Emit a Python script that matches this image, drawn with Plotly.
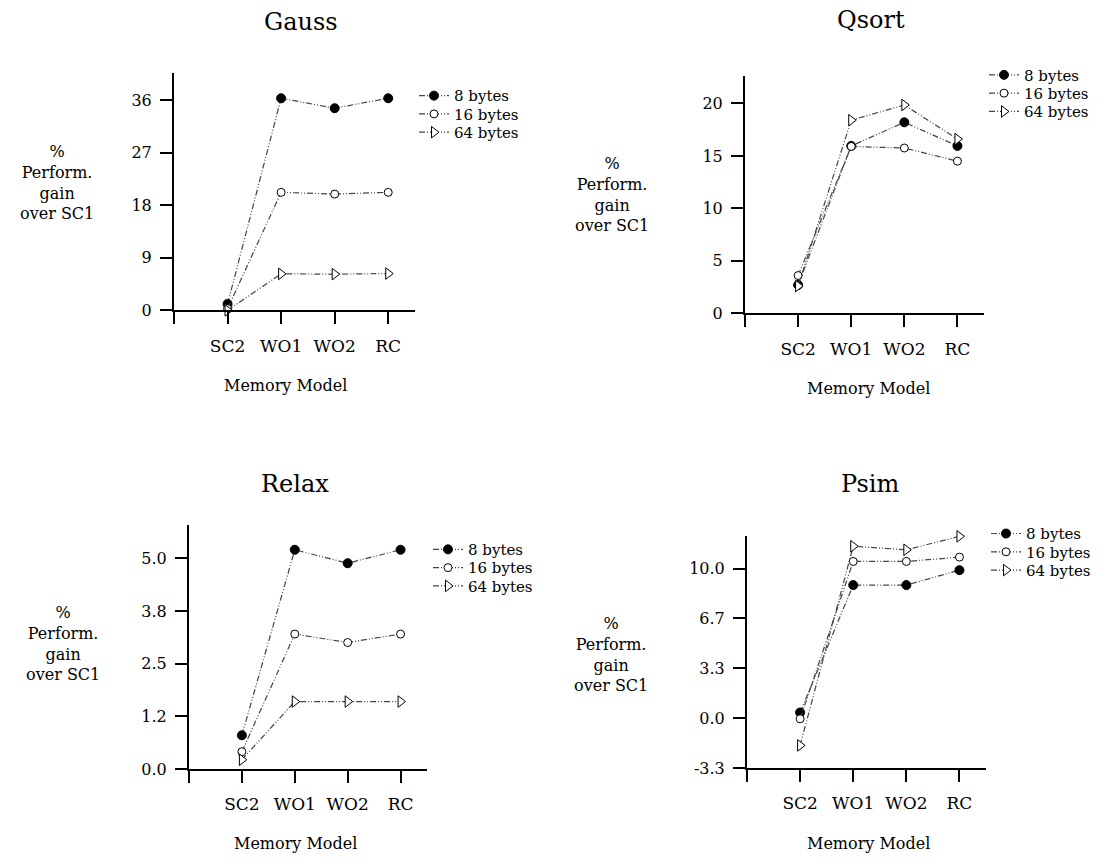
import plotly.graph_objects as go

W, H = 1114, 867

categories = ["SC2", "WO1", "WO2", "RC"]
series_names = ["8 bytes", "16 bytes", "64 bytes"]

gauss_8 = [1.1, 36.3, 34.6, 36.3]
gauss_16 = [0.3, 20.2, 19.9, 20.2]
gauss_64 = [0.0, 6.25, 6.2, 6.3]

qsort_8 = [2.7, 15.95, 18.2, 15.95]
qsort_16 = [3.6, 15.9, 15.75, 14.5]
qsort_64 = [2.6, 18.4, 19.85, 16.6]

relax_8 = [0.8, 5.2, 4.88, 5.2]
relax_16 = [0.41, 3.2, 3.0, 3.2]
relax_64 = [0.22, 1.6, 1.6, 1.6]

psim_8 = [0.38, 8.9, 8.9, 9.9]
psim_16 = [-0.04, 10.48, 10.48, 10.77]
psim_64 = [-1.82, 11.5, 11.26, 12.16]

gauss_ticks = [0, 9, 18, 27, 36]
gauss_ticktext = ["0", "9", "18", "27", "36"]
qsort_ticks = [0, 5, 10, 15, 20]
qsort_ticktext = ["0", "5", "10", "15", "20"]
relax_ticks = [0, 1.25, 2.5, 3.75, 5.0]
relax_ticktext = ["0.0", "1.2", "2.5", "3.8", "5.0"]
psim_ticks = [-10 / 3, 0, 10 / 3, 20 / 3, 10]
psim_ticktext = ["-3.3", "0.0", "3.3", "6.7", "10.0"]

ytitle = "%<br>Perform.<br>gain<br>over SC1"
xtitle = "Memory Model"

FONT = "DejaVu Serif"

panels = [
    dict(title="Gauss", data=[gauss_8, gauss_16, gauss_64], ticks=gauss_ticks, ticktext=gauss_ticktext,
         box=(174, 415, 74, 314), yrange=[0, 40.6], tpos=(301, 22), mpos=(285, 390),
         ypos=(57, 185), leg=(414, [97, 115.5, 134])),
    dict(title="Qsort", data=[qsort_8, qsort_16, qsort_64], ticks=qsort_ticks, ticktext=qsort_ticktext,
         box=(745, 984, 77, 317), yrange=[0, 22.6], tpos=(871, 20), mpos=(868, 393),
         ypos=(612, 197), leg=(984, [76, 94.5, 113])),
    dict(title="Relax", data=[relax_8, relax_16, relax_64], ticks=relax_ticks, ticktext=relax_ticktext,
         box=(189, 427, 531, 778), yrange=[0, 5.79], tpos=(295, 490), mpos=(295, 853),
         ypos=(63, 651), leg=(428, [556, 574.5, 593])),
    dict(title="Psim", data=[psim_8, psim_16, psim_64], ticks=psim_ticks, ticktext=psim_ticktext,
         box=(747, 986, 542, 777), yrange=[-10 / 3, 12.2], tpos=(870, 490), mpos=(868, 853),
         ypos=(611, 662), leg=(986, [540, 558.5, 577])),
]

markers = [
    dict(symbol="circle", size=9, color="black", line=dict(color="black", width=1)),
    dict(symbol="circle", size=8, color="white", line=dict(color="black", width=1)),
    dict(symbol="triangle-right", size=10, color="white", line=dict(color="black", width=1)),
]
DASH = "6px,2px,1px,2px,1px,2px"

fig = go.Figure()
annotations = []
layout = {}
xs = list(range(1, len(categories) + 1))
leg_idx = 0
for i, p in enumerate(panels):
    k = "" if i == 0 else str(i + 1)
    l, r, t, b = p["box"]
    layout["xaxis" + k] = dict(
        domain=[l / W, r / W], range=[0, 4.5], anchor="y" + k,
        tickvals=[0] + xs, ticktext=[""] + categories,
        ticks="outside", ticklen=12, tickwidth=2, tickcolor="black",
        showline=True, linewidth=2, linecolor="black", showgrid=False, zeroline=False,
        tickfont=dict(size=17, family=FONT, color="black"), fixedrange=True,
        ticklabelstandoff=7,
    )
    layout["yaxis" + k] = dict(
        domain=[1 - b / H, 1 - t / H], range=p["yrange"], anchor="x" + k,
        tickvals=p["ticks"], ticktext=p["ticktext"],
        ticks="outside", ticklen=12, tickwidth=2, tickcolor="black",
        showline=True, linewidth=2, linecolor="black", showgrid=False, zeroline=False,
        tickfont=dict(size=16, family=FONT, color="black"), fixedrange=True,
        ticklabelstandoff=5,
    )
    for j, (name, vals) in enumerate(zip(series_names, p["data"])):
        leg_idx += 1
        lname = "legend" if leg_idx == 1 else "legend%d" % leg_idx
        fig.add_trace(go.Scatter(
            x=xs, y=vals, name=name, mode="lines+markers",
            line=dict(color="#444444", width=1.2, dash=DASH),
            marker=markers[j], xaxis="x" + k, yaxis="y" + k,
            legend=lname, showlegend=True, cliponaxis=False,
        ))
        lx, lys = p["leg"]
        layout[lname] = dict(
            x=lx / W, y=1 - lys[j] / H, xanchor="left", yanchor="middle",
            bgcolor="rgba(0,0,0,0)", borderwidth=0,
            font=dict(size=15, family=FONT, color="black"),
            itemwidth=30, tracegroupgap=0,
        )
    annotations.append(dict(text=p["title"], x=p["tpos"][0] / W, y=1 - p["tpos"][1] / H,
                            xref="paper", yref="paper", showarrow=False,
                            xanchor="center", yanchor="middle",
                            font=dict(size=24, family=FONT, color="black")))
    annotations.append(dict(text=xtitle, x=p["mpos"][0] / W, y=1 - p["mpos"][1] / H,
                            xref="paper", yref="paper", showarrow=False,
                            xanchor="center", yanchor="middle",
                            font=dict(size=16, family=FONT, color="black")))
    annotations.append(dict(text=ytitle, x=p["ypos"][0] / W, y=1 - p["ypos"][1] / H,
                            xref="paper", yref="paper", showarrow=False,
                            xanchor="center", yanchor="middle", align="center",
                            font=dict(size=16, family=FONT, color="black")))

fig.update_layout(
    width=W, height=H, margin=dict(l=0, r=0, t=0, b=0),
    paper_bgcolor="white", plot_bgcolor="white",
    font=dict(family=FONT, color="black"),
    annotations=annotations, **layout,
)

fig.write_html("out.html", config={"displayModeBar": False},
               post_script="document.body.style.margin='0';document.body.style.overflow='hidden';")
